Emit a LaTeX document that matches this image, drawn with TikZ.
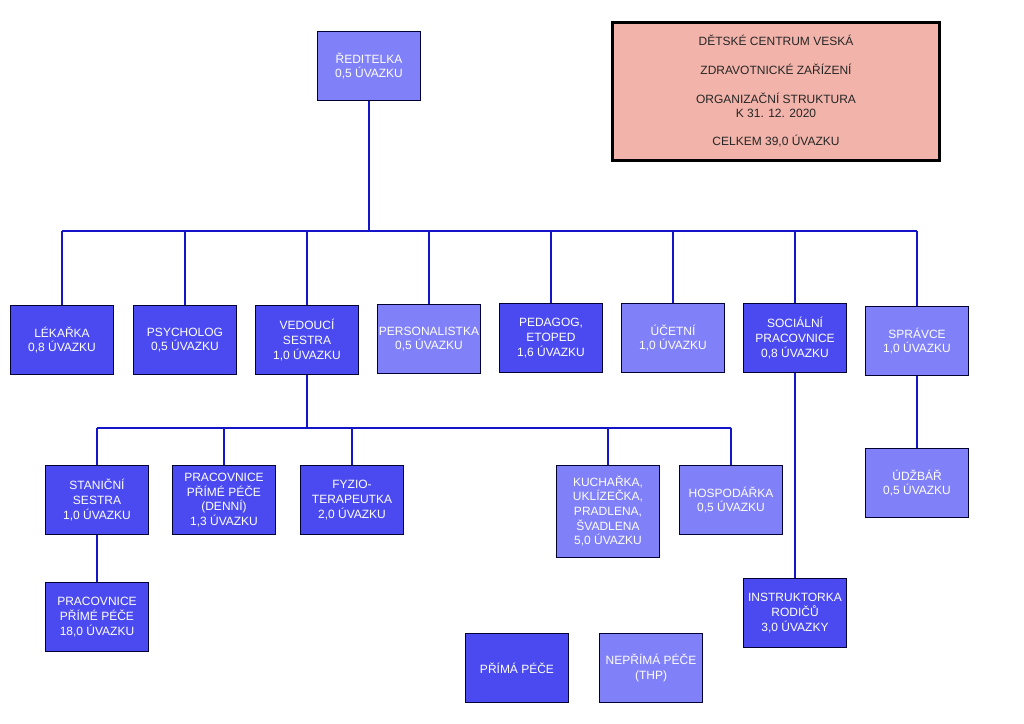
\documentclass[tikz,border=0pt]{standalone}
\usepackage{fontspec}
\setmainfont{Liberation Sans}
\definecolor{primacol}{RGB}{74,74,240}
\definecolor{neprimacol}{RGB}{128,128,248}
\definecolor{linkcol}{RGB}{20,20,200}
\definecolor{titlecol}{RGB}{242,180,170}
\tikzset{
  box/.style={draw=black!80!blue,line width=0.6pt,text=white,align=center,
    minimum width=77.25pt,minimum height=51.75pt,inner sep=1pt,
    font=\fontsize{9}{11}\selectfont},
  prima/.style={box,fill=primacol},
  neprima/.style={box,fill=neprimacol},
  link/.style={linkcol,line width=2.2pt}
}

\begin{document}
\begin{tikzpicture}[x=0.75pt,y=-0.75pt]
\useasboundingbox (0,0) rectangle (1024,724);
\node [draw=black,line width=2.2pt,fill=titlecol,minimum width=245pt,minimum height=103.5pt,
  align=center,text=black!85,font=\fontsize{9}{10.5}\selectfont] (titul) at (776,91.5)
  {DĚTSKÉ CENTRUM VESKÁ\\[11pt]ZDRAVOTNICKÉ ZAŘÍZENÍ\\[11pt]ORGANIZAČNÍ STRUKTURA\\K 31. 12. 2020\\[11pt]CELKEM 39,0 ÚVAZKU};
% vedeni
\node [neprima] (reditelka) at (369,66) {ŘEDITELKA\\0,5 ÚVAZKU};
% druha rada
\node [prima] (lekarka) at (62,340) {LÉKAŘKA\\0,8 ÚVAZKU};
\node [prima] (psycholog) at (185,340) {PSYCHOLOG\\0,5 ÚVAZKU};
\node [prima] (vedouci) at (307,340) {VEDOUCÍ\\SESTRA\\1,0 ÚVAZKU};
\node [neprima] (personal) at (429,339) {PERSONALISTKA\\0,5 ÚVAZKU};
\node [prima] (pedagog) at (551,338) {PEDAGOG,\\ETOPED\\1,6 ÚVAZKU};
\node [neprima] (ucetni) at (673,338) {ÚČETNÍ\\1,0 ÚVAZKU};
\node [prima] (socialni) at (795,338) {SOCIÁLNÍ\\PRACOVNICE\\0,8 ÚVAZKU};
\node [neprima] (spravce) at (917,341) {SPRÁVCE\\1,0 ÚVAZKU};
% treti rada
\node [prima] (stanicni) at (97,500) {STANIČNÍ\\SESTRA\\1,0 ÚVAZKU};
\node [prima] (denni) at (224,500) {PRACOVNICE\\PŘÍMÉ PÉČE\\(DENNÍ)\\1,3 ÚVAZKU};
\node [prima] (fyzio) at (352,500) {FYZIO-\\TERAPEUTKA\\2,0 ÚVAZKU};
\node [neprima,minimum height=69pt] (kucharka) at (608,511) {KUCHAŘKA,\\UKLÍZEČKA,\\PRADLENA,\\ŠVADLENA\\5,0 ÚVAZKU};
\node [neprima] (hospodarka) at (731,500) {HOSPODÁŘKA\\0,5 ÚVAZKU};
\node [neprima] (udrzbar) at (917,483) {ÚDŽBÁŘ\\0,5 ÚVAZKU};
% ctvrta rada
\node [prima] (pracovnice) at (97,617) {PRACOVNICE\\PŘÍMÉ PÉČE\\18,0 ÚVAZKU};
\node [prima] (instruktorka) at (795,613) {INSTRUKTORKA\\RODIČŮ\\3,0 ÚVAZKY};
% legenda
\node [prima] (legprima) at (517,668) {PŘÍMÁ PÉČE};
\node [neprima] (legneprima) at (651,668) {NEPŘÍMÁ PÉČE\\(THP)};
% spoje
\coordinate (bus) at (0,231);
\coordinate (bussestra) at (0,428);
\draw [link] (reditelka.south) -- (reditelka.south |- bus);
\draw [link] (lekarka.north |- bus) -- (spravce.north |- bus);
\foreach \n in {lekarka,psycholog,vedouci,personal,pedagog,ucetni,socialni,spravce}
  \draw [link] (\n.north |- bus) -- (\n.north);
\draw [link] (vedouci.south) -- (vedouci.south |- bussestra);
\draw [link] (stanicni.north |- bussestra) -- (hospodarka.north |- bussestra);
\foreach \n in {stanicni,denni,fyzio,kucharka,hospodarka}
  \draw [link] (\n.north |- bussestra) -- (\n.north);
\draw [link] (stanicni.south) -- (pracovnice.north);
\draw [link] (socialni.south) -- (instruktorka.north);
\draw [link] (spravce.south) -- (udrzbar.north);
\end{tikzpicture}
\end{document}
